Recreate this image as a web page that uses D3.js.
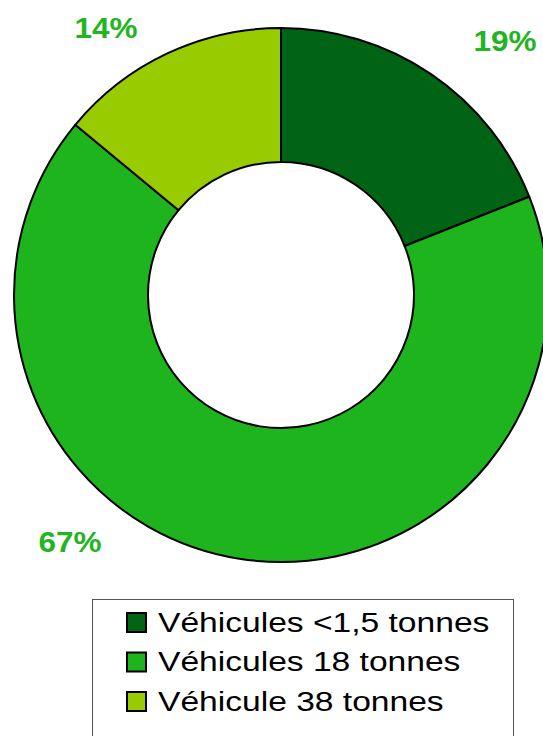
<!DOCTYPE html>
<html>
<head>
<meta charset="utf-8">
<script src="https://cdn.jsdelivr.net/npm/d3@7"></script>
<style>
  body { margin: 0; background: #fff; }
  svg { display: block; }
</style>
</head>
<body>
<script>
// data
const categories = ["Véhicules <1,5 tonnes", "Véhicules 18 tonnes", "Véhicule 38 tonnes"];
const values = [19, 67, 14];
const colors = ["#006414", "#1eb41e", "#99cc00"];
const pctLabels = ["19%", "67%", "14%"];
// label positions (center x, baseline y)
const labelPos = [[505, 51], [70, 552], [106, 38]];

const width = 543, height = 736;
const cx = 281, cy = 295;
const outerR = 267, innerR = 133;

const svg = d3.select("body")
  .append("svg")
  .attr("width", width)
  .attr("height", height);

const pie = d3.pie().sort(null).value(d => d);
const arc = d3.arc().innerRadius(innerR).outerRadius(outerR);

const g = svg.append("g").attr("transform", `translate(${cx},${cy})`);

g.selectAll("path")
  .data(pie(values))
  .enter()
  .append("path")
  .attr("d", arc)
  .attr("fill", (d, i) => colors[i])
  .attr("stroke", "black")
  .attr("stroke-width", 2)
  .attr("stroke-linejoin", "round");

svg.selectAll("text.pct")
  .data(pctLabels)
  .enter()
  .append("text")
  .attr("class", "pct")
  .attr("transform", (d, i) => `translate(${labelPos[i][0]},${labelPos[i][1]}) scale(1.05,1)`)
  .attr("text-anchor", "middle")
  .style("font-family", "'Liberation Sans', Arial, sans-serif")
  .style("font-weight", "bold")
  .style("font-size", "30px")
  .style("fill", "#22b422")
  .text(d => d);

// legend
const legend = svg.append("g");
legend.append("rect")
  .attr("x", 92.5)
  .attr("y", 599.5)
  .attr("width", 421)
  .attr("height", 150)
  .style("fill", "white")
  .style("stroke", "#555")
  .style("stroke-width", 1);

const rows = legend.selectAll("g.row")
  .data(categories)
  .enter()
  .append("g")
  .attr("class", "row")
  .attr("transform", (d, i) => `translate(0, ${631.5 + i * 39.5})`);

rows.append("rect")
  .attr("x", 127)
  .attr("y", -18.5)
  .attr("width", 19)
  .attr("height", 19)
  .style("fill", (d, i) => colors[i])
  .style("stroke", "black")
  .style("stroke-width", 2);

rows.append("text")
  .attr("transform", "translate(158,0) scale(1.2,1)")
  .style("font-family", "'Liberation Sans', Arial, sans-serif")
  .style("font-size", "28px")
  .style("fill", "black")
  .text(d => d);
</script>
</body>
</html>
